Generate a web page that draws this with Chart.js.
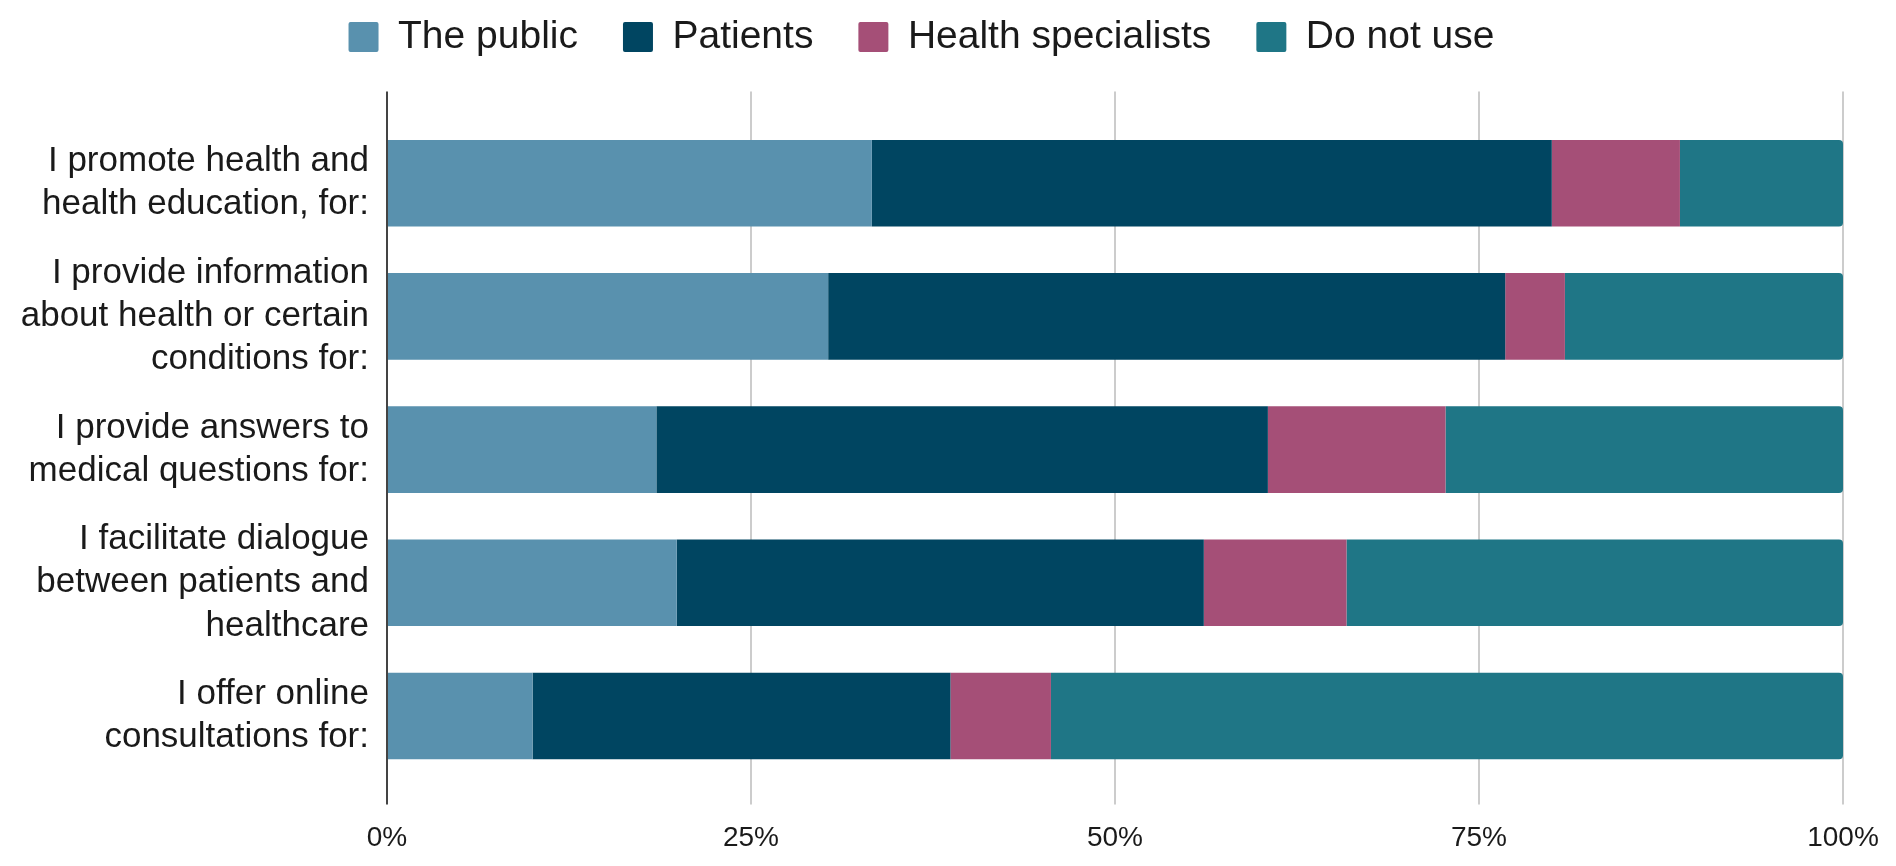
<!DOCTYPE html>
<html>
<head>
<meta charset="utf-8">
<title>Use of online channels</title>
<script src="https://cdn.jsdelivr.net/npm/chart.js@4/dist/chart.umd.min.js"></script>
<style>
  html, body { margin: 0; padding: 0; background: #fff; }
  #wrap { width: 1896px; height: 866px; }
</style>
</head>
<body>
<div id="wrap"><canvas id="chart"></canvas></div>
<script>
const categories = [
  ['I promote health and', 'health education, for:'],
  ['I provide information', 'about health or certain', 'conditions for:'],
  ['I provide answers to', 'medical questions for:'],
  ['I facilitate dialogue', 'between patients and', 'healthcare'],
  ['I offer online', 'consultations for:']
];

const publicShare = [33.3, 30.3, 18.5, 19.9, 10.0];
const patientsShare = [46.7, 46.5, 42.0, 36.2, 28.7];
const specialistsShare = [8.8, 4.1, 12.2, 9.8, 6.9];
const notUsedShare = [11.2, 19.1, 27.3, 34.1, 54.4];

const tickValues = [0, 25, 50, 75, 100];

const FONT = '"Liberation Sans", Arial, sans-serif';

function series(label, data, color) {
  return {
    label: label,
    data: data,
    backgroundColor: color,
    borderWidth: 0,
    borderRadius: 4,
    barPercentage: 0.65,
    categoryPercentage: 1,
    xAxisID: 'x'
  };
}

// the 0% line doubles as the dark vertical axis
const gridColor = ctx => (ctx.tick && ctx.tick.value === 0 ? '#444444' : '#cccccc');

new Chart(document.getElementById('chart'), {
  type: 'bar',
  data: {
    labels: categories,
    datasets: [
      series('The public', publicShare, '#5991ae'),
      series('Patients', patientsShare, '#004561'),
      series('Health specialists', specialistsShare, '#a54f77'),
      series('Do not use', notUsedShare, '#1f7686')
    ]
  },
  options: {
    indexAxis: 'y',
    responsive: true,
    maintainAspectRatio: false,
    animation: false,
    layout: { padding: { top: -27.5, right: 53, bottom: 0, left: 0 } },
    scales: {
      x: {
        stacked: true,
        min: 0,
        max: 100,
        afterBuildTicks: scale => { scale.ticks = tickValues.map(v => ({ value: v })); },
        afterFit: scale => { scale.height = 83.4; },
        border: { display: false },
        grid: { color: gridColor, lineWidth: 2, drawTicks: true, tickLength: 22 },
        ticks: {
          padding: 17,
          color: '#1a1a1a',
          font: { family: FONT, size: 28 },
          callback: v => v + '%'
        }
      },
      // top axis only carries the grid stubs above the first bar
      x2: {
        position: 'top',
        min: 0,
        max: 100,
        afterBuildTicks: scale => { scale.ticks = tickValues.map(v => ({ value: v })); },
        afterFit: scale => { scale.height = 50.1; },
        border: { display: false },
        grid: { color: gridColor, lineWidth: 2, drawOnChartArea: false, drawTicks: true, tickLength: 25 },
        ticks: { display: false }
      },
      y: {
        stacked: true,
        afterFit: scale => { scale.width = 387; },
        border: { display: false },
        grid: { display: false, drawTicks: false },
        ticks: {
          padding: 18,
          color: '#1a1a1a',
          font: { family: FONT, size: 35, lineHeight: 1.23 }
        }
      }
    },
    plugins: {
      legend: {
        position: 'top',
        labels: {
          boxWidth: 30,
          boxHeight: 30,
          padding: 45,
          color: '#1a1a1a',
          font: { family: FONT, size: 39 },
          useBorderRadius: true,
          borderRadius: 2
        }
      },
      tooltip: {
        callbacks: {
          label: ctx => ctx.dataset.label + ': ' + ctx.parsed.x + '%'
        }
      }
    }
  }
});
</script>
</body>
</html>
